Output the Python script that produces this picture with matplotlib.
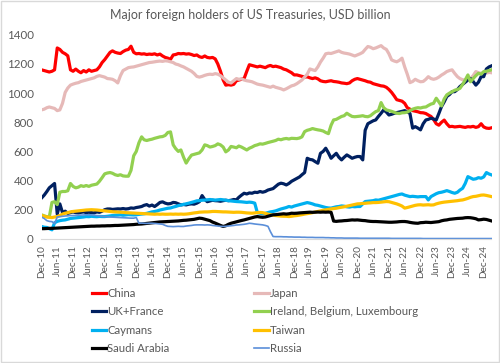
import numpy as np
import pandas as pd
import matplotlib
matplotlib.use('Agg')
from matplotlib import pyplot as plt
from matplotlib.patches import Rectangle

# monthly, Dec-10 .. Mar-25 (first value Dec-10, then Jan..Dec rows per year)
months = pd.date_range('2010-12-01', periods=172, freq='MS')

china = [1160,
         1155, 1150, 1145, 1150, 1160, 1310, 1300, 1280, 1270, 1256, 1160, 1150,
         1165, 1150, 1140, 1155, 1145, 1160, 1150, 1155, 1160, 1180, 1210, 1230,
         1255, 1280, 1290, 1280, 1275, 1272, 1285, 1295, 1300, 1322, 1280, 1270,
         1272, 1268, 1270, 1265, 1268, 1266, 1270, 1262, 1268, 1255, 1245, 1240,
         1232, 1262, 1265, 1272, 1270, 1272, 1268, 1270, 1265, 1258, 1262, 1250,
         1245, 1255, 1245, 1242, 1245, 1235, 1200, 1150, 1090, 1055, 1058, 1055,
         1060, 1085, 1090, 1095, 1100, 1150, 1195, 1190, 1185, 1180, 1185, 1180,
         1175, 1185, 1190, 1182, 1185, 1180, 1175, 1165, 1160, 1150, 1140, 1125,
         1125, 1120, 1115, 1110, 1112, 1105, 1100, 1105, 1098, 1085, 1080, 1078,
         1082, 1085, 1080, 1078, 1075, 1070, 1068, 1065, 1070, 1085, 1095, 1100,
         1095, 1090, 1085, 1078, 1075, 1065, 1060, 1055, 1050, 1048, 1040, 1025,
         1005, 980, 955, 950, 945, 930, 900, 890, 880, 876, 872, 866,
         865, 860, 850, 840, 820, 790, 780, 800, 815, 790, 770, 772,
         768, 770, 772, 768, 765, 770, 768, 772, 765, 770, 790, 768,
         760, 758, 762]

japan = [885,
         890, 900, 905, 900, 895, 880, 885, 930, 1005, 1035, 1055, 1062,
         1068, 1072, 1080, 1085, 1090, 1095, 1100, 1105, 1115, 1120, 1115, 1110,
         1100, 1098, 1095, 1085, 1070, 1120, 1155, 1165, 1175, 1178, 1180, 1185,
         1190, 1195, 1200, 1205, 1210, 1212, 1215, 1218, 1220, 1218, 1222, 1220,
         1215, 1210, 1200, 1195, 1187, 1180, 1170, 1160, 1150, 1135, 1115, 1110,
         1115, 1122, 1127, 1130, 1128, 1134, 1130, 1120, 1105, 1090, 1075, 1070,
         1085, 1100, 1095, 1098, 1090, 1085, 1082, 1078, 1070, 1062, 1058, 1055,
         1050, 1045, 1040, 1048, 1040, 1035, 1030, 1022, 1030, 1040, 1050, 1055,
         1065, 1078, 1090, 1110, 1130, 1166, 1160, 1155, 1180, 1213, 1240, 1270,
         1274, 1272, 1278, 1285, 1290, 1280, 1275, 1272, 1268, 1262, 1255, 1262,
         1270, 1280, 1300, 1320, 1315, 1305, 1310, 1318, 1326, 1310, 1300, 1270,
         1228, 1220, 1215, 1225, 1240, 1180, 1130, 1072, 1080, 1095, 1085, 1078,
         1080, 1095, 1113, 1100, 1095, 1100, 1110, 1124, 1135, 1148, 1155, 1160,
         1135, 1113, 1100, 1092, 1090, 1095, 1100, 1120, 1148, 1140, 1136, 1136,
         1138, 1142, 1140]

uk_france = [280,
             300, 325, 350, 365, 380, 170, 240, 180, 190, 175, 180, 185,
             180, 178, 182, 185, 180, 183, 180, 178, 185, 182, 190, 200,
             205, 205, 202, 204, 206, 205, 208, 205, 207, 212, 210, 215,
             218, 222, 230, 235, 225, 232, 222, 235, 250, 254, 245, 240,
             242, 250, 248, 240, 233, 236, 233, 238, 240, 238, 245, 255,
             297, 270, 255, 260, 265, 262, 261, 258, 262, 265, 262, 265,
             270, 268, 285, 300, 313, 308, 315, 313, 320, 318, 325, 320,
             325, 335, 340, 345, 360, 375, 382, 378, 370, 380, 395, 405,
             416, 425, 440, 455, 553, 545, 542, 530, 519, 587, 600, 622,
             590, 553, 570, 587, 560, 542, 560, 576, 565, 553, 560, 565,
             565, 542, 745, 790, 800, 810, 816, 840, 862, 885, 870, 850,
             855, 862, 866, 870, 875, 880, 873, 860, 760, 770, 760, 748,
             790, 816, 820, 828, 822, 816, 860, 908, 940, 977, 990, 1010,
             1010, 1025, 1045, 1060, 1075, 1090, 1100, 1080, 1055, 1075, 1113, 1113,
             1166, 1180, 1187]

ireland_bel_lux = [165,
                   158, 152, 150, 250, 255, 235, 320, 325, 325, 330, 380, 360,
                   350, 355, 365, 360, 366, 360, 368, 372, 376, 395, 420, 446,
                   452, 455, 450, 440, 435, 440, 432, 430, 430, 470, 570, 600,
                   660, 700, 680, 675, 680, 684, 690, 695, 700, 702, 710, 730,
                   734, 645, 620, 600, 610, 560, 520, 550, 575, 580, 585, 590,
                   610, 645, 640, 630, 634, 640, 652, 645, 630, 597, 610, 634,
                   630, 625, 637, 630, 620, 610, 622, 630, 640, 645, 652, 650,
                   655, 661, 665, 670, 675, 684, 680, 686, 689, 685, 690, 689,
                   688, 692, 700, 736, 745, 750, 757, 752, 748, 745, 740, 730,
                   722, 780, 816, 820, 830, 840, 845, 862, 850, 840, 838, 840,
                   842, 845, 840, 838, 845, 860, 873, 880, 935, 900, 885, 880,
                   875, 868, 862, 860, 865, 866, 870, 880, 890, 896, 900, 898,
                   903, 905, 915, 925, 930, 965, 940, 912, 960, 988, 1000, 1010,
                   1020, 1025, 1033, 1060, 1090, 1125, 1078, 1100, 1120, 1136, 1130, 1148,
                   1150, 1155, 1160]

caymans = [85,
           80, 78, 70, 62, 110, 120, 125, 128, 130, 135, 140, 142,
           144, 146, 148, 150, 153, 152, 155, 153, 152, 154, 153, 153,
           155, 158, 160, 162, 163, 165, 162, 164, 166, 165, 164, 165,
           168, 170, 172, 175, 180, 185, 188, 192, 198, 202, 206, 210,
           212, 218, 222, 228, 232, 236, 240, 245, 250, 255, 261, 262,
           265, 266, 268, 270, 268, 266, 268, 270, 268, 265, 262, 260,
           258, 256, 255, 254, 252, 250, 252, 250, 245, 180, 176, 172,
           175, 180, 185, 188, 192, 199, 205, 210, 215, 222, 218, 225,
           230, 235, 240, 245, 249, 245, 240, 233, 230, 225, 220, 215,
           212, 211, 215, 220, 222, 226, 224, 220, 218, 222, 220, 222,
           222, 240, 256, 258, 260, 262, 267, 265, 270, 275, 280, 285,
           290, 295, 300, 305, 308, 300, 295, 290, 292, 290, 288, 290,
           290, 290, 267, 290, 300, 310, 317, 320, 325, 331, 325, 318,
           313, 320, 335, 347, 380, 427, 418, 409, 412, 420, 416, 425,
           455, 445, 439]

taiwan = [160,
          155, 150, 148, 146, 150, 153, 160, 170, 176, 180, 185, 188,
          190, 192, 194, 196, 198, 199, 200, 199, 198, 196, 194, 192,
          190, 188, 186, 185, 184, 183, 182, 180, 179, 178, 177, 176,
          175, 174, 173, 172, 171, 170, 169, 170, 169, 170, 169, 169,
          170, 169, 170, 169, 170, 169, 170, 172, 175, 178, 180, 183,
          184, 185, 185, 186, 188, 188, 187, 186, 185, 185, 184, 183,
          182, 183, 183, 182, 180, 178, 177, 176, 178, 180, 181, 180,
          175, 170, 165, 162, 160, 158, 156, 155, 155, 153, 155, 158,
          160, 163, 166, 170, 173, 176, 180, 184, 188, 192, 196, 199,
          202, 205, 208, 210, 214, 217, 220, 224, 228, 232, 236, 240,
          241, 243, 244, 246, 247, 249, 249, 250, 252, 254, 256, 255,
          250, 245, 240, 233, 225, 211, 215, 220, 225, 230, 233, 234,
          232, 233, 234, 232, 233, 240, 245, 249, 252, 254, 256, 258,
          260, 262, 265, 267, 272, 278, 285, 290, 292, 296, 300, 301,
          298, 294, 290]

saudi = [70,
         70, 71, 72, 72, 73, 74, 75, 76, 77, 78, 79, 80,
         81, 82, 83, 84, 85, 86, 87, 87, 88, 88, 89, 89,
         90, 90, 91, 92, 92, 93, 94, 95, 96, 97, 98, 100,
         101, 102, 104, 106, 108, 110, 112, 114, 116, 117, 118, 119,
         120, 121, 122, 123, 125, 127, 128, 130, 132, 134, 138, 142,
         140, 135, 130, 125, 115, 108, 100, 92, 85, 90, 100, 107,
         112, 117, 122, 126, 130, 135, 140, 145, 150, 153, 150, 148,
         150, 155, 160, 165, 166, 168, 170, 172, 170, 172, 176, 175,
         176, 178, 179, 180, 181, 183, 182, 183, 184, 183, 184, 183,
         184, 182, 122, 120, 122, 123, 125, 126, 128, 130, 129, 130,
         128, 126, 125, 122, 120, 119, 119, 118, 117, 116, 115, 114,
         114, 115, 116, 118, 119, 119, 117, 113, 110, 108, 107, 111,
         112, 114, 113, 112, 114, 116, 118, 124, 128, 130, 134, 136,
         138, 140, 141, 142, 145, 146, 145, 142, 138, 130, 132, 135,
         133, 128, 123]

russia = [150,
          140, 125, 120, 118, 105, 150, 152, 155, 157, 158, 160, 160,
          161, 162, 163, 164, 165, 165, 164, 162, 160, 158, 155, 153,
          152, 150, 149, 148, 147, 146, 145, 144, 143, 142, 142, 146,
          107, 108, 107, 106, 107, 107, 106, 104, 102, 100, 92, 86,
          85, 84, 85, 86, 85, 85, 88, 90, 92, 95, 96, 96,
          96, 95, 96, 95, 92, 90, 88, 86, 85, 86, 88, 90,
          92, 95, 96, 98, 100, 103, 107, 105, 102, 100, 98, 96,
          92, 86, 50, 16, 15, 15, 15, 14, 14, 13, 13, 12,
          12, 12, 11, 11, 10, 10, 10, 9, 9, 9, 9, 8,
          8, 7, 7, 6, 6, 6, 5, 5, 5, 5, 5, 5,
          4, 4, 4, 4, 4, 4, 4, 4, 4, 4, 4, 4,
          3, 3, 3, 3, 3, 3, 3, 3, 3, 3, 3, 3,
          2, 2, 2, 2, 2, 2, 2, 2, 2, 2, 2, 2,
          2, 2, 2, 2, 2, 2, 2, 2, 2, 2, 2, 2,
          2, 2, 2]

series = [
    ('China', china, '#FF0000', 2.3),
    ('Japan', japan, '#E6B9B8', 2.3),
    ('UK+France', uk_france, '#002060', 2.3),
    ('Ireland, Belgium, Luxembourg', ireland_bel_lux, '#92D050', 2.3),
    ('Caymans', caymans, '#00B0F0', 2.3),
    ('Taiwan', taiwan, '#FFC000', 2.3),
    ('Saudi Arabia', saudi, '#000000', 2.3),
    ('Russia', russia, '#5B8FD9', 1.2),
]

plt.rcParams['font.family'] = ['Lato', 'DejaVu Sans']
grey = '#595959'

fig = plt.figure(figsize=(5, 3.63), dpi=100)
ax = fig.add_axes([0.083, 0.342, 0.9, 0.562])

lines = {}
for name, vals, col, lw in series:
    l, = ax.plot(months, vals, color=col, lw=lw, label=name,
                 solid_joinstyle='round')
    lines[name] = l

ax.set_xlim(months[0], months[-1])
ax.set_ylim(0, 1400)
ax.set_yticks(range(0, 1401, 200))
tick_dates = months[::6][:29]
ax.set_xticks(tick_dates)
ax.set_xticklabels([d.strftime('%b-%y') for d in tick_dates], rotation=90)
ax.tick_params(axis='y', length=0, labelsize=8.3, colors=grey, pad=5.5)
ax.tick_params(axis='x', length=0, labelsize=7.2, colors=grey, pad=4.5)
for s in ['top', 'right', 'left']:
    ax.spines[s].set_visible(False)
ax.spines['bottom'].set_color('#D9D9D9')

fig.text(0.5, 0.958, 'Major foreign holders of US Treasuries, USD billion',
         ha='center', va='center', fontsize=9, color=grey)

order = ['China', 'UK+France', 'Caymans', 'Saudi Arabia',
         'Japan', 'Ireland, Belgium, Luxembourg', 'Taiwan', 'Russia']
leg = fig.legend([lines[n] for n in order], order, ncol=2,
                 loc='upper left', bbox_to_anchor=(0.183, 0.207),
                 frameon=False, fontsize=8.2, handlelength=1.3,
                 handletextpad=0.1, columnspacing=7.4, labelspacing=0.66,
                 borderaxespad=0, borderpad=0)
for t in leg.get_texts():
    t.set_color(grey)

fig.add_artist(Rectangle((0.002, 0.003), 0.996, 0.994, transform=fig.transFigure,
                         fill=False, edgecolor='#D9D9D9', lw=1))

fig.savefig('out.png', dpi=100)
